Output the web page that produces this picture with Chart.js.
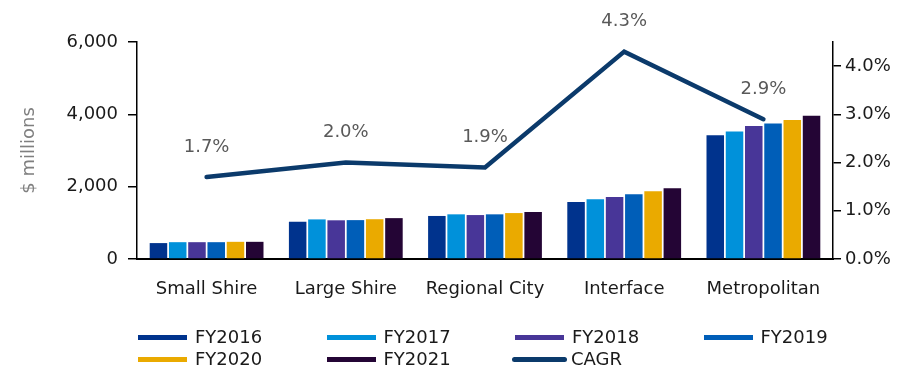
<!DOCTYPE html>
<html>
<head>
<meta charset="utf-8">
<script src="https://cdn.jsdelivr.net/npm/chart.js@4/dist/chart.umd.min.js"></script>
<style>
  html, body { margin: 0; padding: 0; background: #fff; }
  body { width: 920px; height: 369px; position: relative; overflow: hidden;
         font-family: "DejaVu Sans", sans-serif; }
  #wrap { position: absolute; left: 0; top: 0; width: 920px; height: 305px; }
  #legend { position: absolute; left: 0; top: 0; width: 920px; height: 369px; pointer-events: none; }
  .item { position: absolute; display: flex; align-items: center; font-size: 18px; color: #1a1a1a;
          height: 20px; line-height: 20px; white-space: nowrap; }
  .sw { display: inline-block; width: 49px; height: 5px; margin-right: 8px; }
  .sw.line { width: 55px; height: 5px; border-radius: 3px; margin-right: 4px; }
</style>
</head>
<body>
<div id="wrap"><canvas id="chart"></canvas></div>
<div id="legend"></div>
<script>
const categories = ['Small Shire', 'Large Shire', 'Regional City', 'Interface', 'Metropolitan'];

// spending by council group, $ millions
const fy2016 = [440, 1030, 1190, 1575, 3425];
const fy2017 = [465, 1095, 1235, 1655, 3525];
const fy2018 = [465, 1070, 1215, 1715, 3675];
const fy2019 = [465, 1075, 1235, 1790, 3750];
const fy2020 = [475, 1100, 1270, 1870, 3840];
const fy2021 = [475, 1130, 1300, 1955, 3960];

// compound annual growth rate, %
const cagr = [1.7, 2.0, 1.9, 4.3, 2.9];

const leftTicks = [0, 2000, 4000, 6000];
const rightTicks = [0, 1, 2, 3, 4];

const FONT = '"DejaVu Sans", sans-serif';
const barColors = ['#00338D', '#0091DA', '#483698', '#005EB8', '#EAAA00', '#240535'];
const lineColor = '#0b3a6b';

const years = [
  ['FY2016', fy2016], ['FY2017', fy2017], ['FY2018', fy2018],
  ['FY2019', fy2019], ['FY2020', fy2020], ['FY2021', fy2021]
];

const barSets = years.map(([label, data], i) => ({
  type: 'bar',
  label,
  data,
  yAxisID: 'y',
  backgroundColor: barColors[i],
  borderWidth: 0,
  categoryPercentage: 0.83,
  barPercentage: 0.91,
  order: 1
}));

const lineSet = {
  type: 'line',
  label: 'CAGR',
  data: cagr,
  yAxisID: 'y1',
  borderColor: lineColor,
  backgroundColor: lineColor,
  borderWidth: 4.5,
  borderCapStyle: 'round',
  borderJoinStyle: 'miter',
  pointRadius: 0,
  tension: 0,
  order: 0
};

// percentage labels above the CAGR line
const cagrLabels = {
  id: 'cagrLabels',
  afterDatasetsDraw(chart) {
    const idx = chart.data.datasets.indexOf(lineSet);
    const meta = chart.getDatasetMeta(idx);
    const ctx = chart.ctx;
    ctx.save();
    ctx.font = '18px ' + FONT;
    ctx.fillStyle = '#595959';
    ctx.textAlign = 'center';
    ctx.textBaseline = 'middle';
    meta.data.forEach((pt, i) => {
      ctx.fillText(cagr[i].toFixed(1) + '%', pt.x, pt.y - 30);
    });
    ctx.restore();
  }
};

const tickFont = { family: FONT, size: 18 };

const chart = new Chart(document.getElementById('chart'), {
  data: { labels: categories, datasets: [...barSets, lineSet] },
  options: {
    responsive: true,
    maintainAspectRatio: false,
    animation: false,
    layout: { padding: { top: 42, left: 0, right: 0, bottom: 0 } },
    plugins: { legend: { display: false }, tooltip: { enabled: false } },
    scales: {
      x: {
        offset: true,
        grid: { display: false },
        border: { display: true, color: '#000', width: 2 },
        ticks: { font: tickFont, color: '#1a1a1a', padding: 12, maxRotation: 0 },
        afterFit: s => { s.height = 46; }
      },
      y: {
        position: 'left',
        min: 0, max: 6000,
        afterBuildTicks: s => { s.ticks = leftTicks.map(v => ({ value: v })); },
        grid: { display: true, drawOnChartArea: false, drawTicks: true, tickLength: 9, color: '#000', lineWidth: 1.5 },
        border: { display: true, color: '#000', width: 1.5 },
        ticks: { font: tickFont, color: '#1a1a1a', padding: 10,
                 callback: v => v.toLocaleString('en-US') },
        title: { display: true, text: '$ millions', color: '#7f7f7f',
                 font: { family: FONT, size: 18 }, padding: { top: 19, bottom: 0 } },
        afterFit: s => { s.width = 137; }
      },
      y1: {
        position: 'right',
        min: 0, max: 4.5,
        afterBuildTicks: s => { s.ticks = rightTicks.map(v => ({ value: v })); },
        grid: { display: true, drawOnChartArea: false, drawTicks: true, tickLength: 8, color: '#000', lineWidth: 1.5 },
        border: { display: true, color: '#000', width: 1.5 },
        ticks: { font: tickFont, color: '#1a1a1a', padding: 4,
                 callback: v => v.toFixed(1) + '%' },
        afterFit: s => { s.width = 920 - 833; }
      }
    }
  },
  plugins: [cagrLabels]
});

// legend laid out in four columns, two rows
const legend = document.getElementById('legend');
chart.data.datasets.forEach((ds, i) => {
  const col = i % 4, row = Math.floor(i / 4);
  const isLine = ds.type === 'line';
  const item = document.createElement('div');
  item.className = 'item';
  item.style.left = (isLine ? 512 : 138 + col * 188.5) + 'px';
  item.style.top = (327 + row * 22) + 'px';
  const sw = document.createElement('span');
  sw.className = 'sw' + (isLine ? ' line' : '');
  sw.style.background = isLine ? ds.borderColor : ds.backgroundColor;
  const txt = document.createElement('span');
  txt.textContent = ds.label;
  item.appendChild(sw);
  item.appendChild(txt);
  legend.appendChild(item);
});
</script>
</body>
</html>
